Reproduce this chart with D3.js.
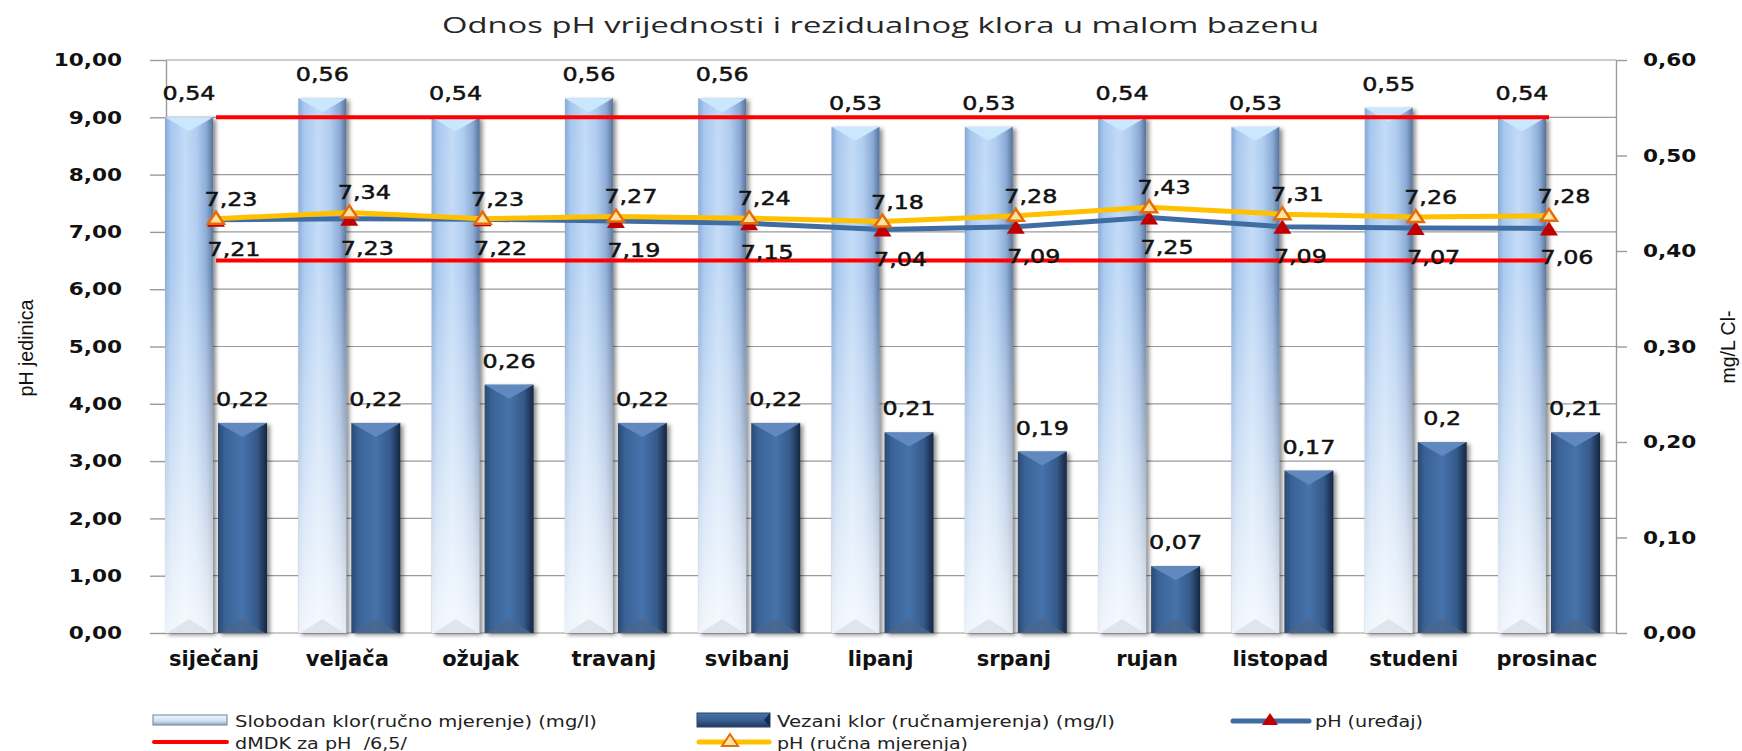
<!DOCTYPE html>
<html><head><meta charset="utf-8">
<script src="https://cdn.jsdelivr.net/npm/d3@7"></script>
<style>body{margin:0;background:#fff}svg{display:block}</style>
</head><body>
<script>
const categories = ["siječanj","veljača","ožujak","travanj","svibanj","lipanj","srpanj","rujan","listopad","studeni","prosinac"];
const slobodanKlor = [0.54,0.56,0.54,0.56,0.56,0.53,0.53,0.54,0.53,0.55,0.54];
const vezaniKlor = [0.22,0.22,0.26,0.22,0.22,0.21,0.19,0.07,0.17,0.2,0.21];
const phUredaj = [7.21,7.23,7.22,7.19,7.15,7.04,7.09,7.25,7.09,7.07,7.06];
const phRucna = [7.23,7.34,7.23,7.27,7.24,7.18,7.28,7.43,7.31,7.26,7.28];
const dmdkDonja = [6.5,6.5,6.5,6.5,6.5,6.5,6.5,6.5,6.5,6.5,6.5];
const dmdkGornja = [9,9,9,9,9,9,9,9,9,9,9];
const leftTicks = [0,1,2,3,4,5,6,7,8,9,10];
const rightTicks = [0,0.1,0.2,0.3,0.4,0.5,0.6];
const title = "Odnos pH vrijednosti i rezidualnog klora u malom bazenu";
const leftTitle = "pH jedinica";
const rightTitle = "mg/L Cl-";
const legendNames = ["Slobodan klor(ručno mjerenje) (mg/l)","Vezani klor (ručnamjerenja) (mg/l)","pH (uređaj)","dMDK za pH  /6,5/","pH (ručna mjerenja)"];

const W=1742,H=751;
const P={left:166,right:1616,top:60,bottom:633};
const svg=d3.select("body").append("svg").attr("width",W).attr("height",H);
const defs=svg.append("defs");
function grad(id,stops,vert){const g=defs.append("linearGradient").attr("id",id).attr("x1",0).attr("y1",0).attr("x2",vert?0:1).attr("y2",vert?1:0);
 stops.forEach(s=>g.append("stop").attr("offset",s[0]).attr("stop-color",s[1]).attr("stop-opacity",s[2]===undefined?1:s[2]));}
grad("gLight",[[0,"#86a8d4"],[0.12,"#a6c7ee"],[0.42,"#c3dbf7"],[0.66,"#afccef"],[0.86,"#8aaad6"],[1,"#56729a"]]);
grad("gLightV",[[0,"#fff",0],[0.3,"#fff",0.05],[1,"#fff",0.85]],true);
grad("gDark",[[0,"#2a4972"],[0.15,"#3a6396"],[0.5,"#4673ab"],[0.8,"#35598a"],[0.92,"#22395c"],[1,"#162842"]]);
grad("gLegL",[[0,"#f2f7fd"],[0.6,"#cfdff1"],[1,"#8ea6c2"]],true);
grad("gLegD",[[0,"#4a72a6"],[0.5,"#3a6094"],[1,"#22395c"]],true);
const f=defs.append("filter").attr("id","sh").attr("x","-30%").attr("y","-10%").attr("width","170%").attr("height","125%");
f.append("feDropShadow").attr("dx",3).attr("dy",2).attr("stdDeviation",2).attr("flood-color","#000").attr("flood-opacity",0.45);

function stretch(sel,k){sel.each(function(){const l=this.getComputedTextLength();this.setAttribute("textLength",l*k);this.setAttribute("lengthAdjust","spacingAndGlyphs");});}
function fitLen(sel,len){sel.attr("textLength",len).attr("lengthAdjust","spacingAndGlyphs");}
const fmt=d=>d3.format(".2f")(d).replace(".",",");
const fmtRaw=d=>String(d).replace(".",",");

const x=d3.scalePoint().domain(categories).range([216,1549]);
const yL=d3.scaleLinear().domain([0,10]).range([P.bottom,P.top]);
const yR=d3.scaleLinear().domain([0,0.6]).range([P.bottom,P.top]);

// title
const t=svg.append("text").attr("x",880.5).attr("y",33).attr("text-anchor","middle")
 .attr("font-family","Open Sans, DejaVu Sans, sans-serif").attr("font-size",22).attr("fill","#262626").text(title);
fitLen(t,877);

// gridlines
svg.append("g").selectAll("line").data(leftTicks).join("line")
 .attr("x1",P.left).attr("x2",P.right).attr("y1",d=>yL(d)).attr("y2",d=>yL(d))
 .attr("stroke","#9a9a9a").attr("stroke-width",1.2);

// axes
const axL=svg.append("g").attr("transform",`translate(${P.left},0)`)
 .call(d3.axisLeft(yL).tickValues(leftTicks).tickSize(16).tickSizeOuter(0).tickPadding(28).tickFormat(fmt));
const axR=svg.append("g").attr("transform",`translate(${P.right},0)`)
 .call(d3.axisRight(yR).tickValues(rightTicks).tickSize(11).tickSizeOuter(0).tickPadding(16).tickFormat(fmt));
[axL,axR].forEach(a=>{a.selectAll("path,line").attr("stroke","#9a9a9a").attr("stroke-width",1.4);
 a.selectAll("text").attr("font-family","DejaVu Sans, Verdana, sans-serif").attr("font-weight","bold").attr("font-size",18).attr("fill","#111");
 stretch(a.selectAll("text"),1.2);});

// axis titles
const lt=svg.append("text").attr("transform","translate(33,348) rotate(-90)").attr("text-anchor","middle")
 .attr("font-family","Liberation Sans Narrow, Liberation Sans, sans-serif").attr("font-size",20).attr("fill","#111").text(leftTitle);
fitLen(lt,97);
const rt=svg.append("text").attr("transform","translate(1735,347) rotate(-90)").attr("text-anchor","middle")
 .attr("font-family","Liberation Sans Narrow, Liberation Sans, sans-serif").attr("font-size",20).attr("fill","#111").text(rightTitle);
fitLen(rt,73);

// bars
const LW=48, DW=49;
function bar(g,x0,w,val,kind){
 const top=yR(val), bot=P.bottom, h=bot-top, xm=x0+w/2, dep=14;
 const grp=g.append("g");
 const sh=grp.append("g").attr("filter","url(#sh)");
 sh.append("rect").attr("x",x0).attr("y",top).attr("width",w).attr("height",h).attr("fill",kind==="L"?"url(#gLight)":"url(#gDark)");
 if(kind==="L") grp.append("rect").attr("x",x0).attr("y",top).attr("width",w).attr("height",h).attr("fill","url(#gLightV)");
 grp.append("path").attr("d",`M${x0},${top}L${x0+w},${top}L${xm},${top+dep}Z`).attr("fill",kind==="L"?"#c9e8fd":"#6189c0");
 grp.append("path").attr("d",`M${x0+2},${bot}L${x0+w-2},${bot}L${xm},${bot-dep}Z`).attr("fill",kind==="L"?"#d8e0ea":"#4a668c").attr("opacity",0.8);
}
const gb=svg.append("g");
categories.forEach((c,i)=>{
 bar(gb,x(c)-51,LW,slobodanKlor[i],"L");
 bar(gb,x(c)+2,DW,vezaniKlor[i],"D");
});

// red limit lines
const line=d3.line().x((d,i)=>x(categories[i])).y(d=>yL(d));
[dmdkGornja,dmdkDonja].forEach(arr=>svg.append("path").attr("d",line(arr)).attr("fill","none").attr("stroke","#ff0000").attr("stroke-width",4));

// pH lines
const tri="M0,-7L8,5L-8,5Z";
svg.append("path").attr("d",line(phUredaj)).attr("fill","none").attr("stroke","#3f6ca3").attr("stroke-width",5).attr("stroke-linejoin","round");
svg.append("g").selectAll("path").data(phUredaj).join("path").attr("d","M0,-8L9,6L-9,6Z")
 .attr("transform",(d,i)=>`translate(${x(categories[i])},${yL(d)+1})`).attr("fill","#c00000");
svg.append("path").attr("d",line(phRucna)).attr("fill","none").attr("stroke","#ffc000").attr("stroke-width",5).attr("stroke-linejoin","round");
svg.append("g").selectAll("path").data(phRucna).join("path").attr("d",tri)
 .attr("transform",(d,i)=>`translate(${x(categories[i])},${yL(d)})`).attr("fill","#fde3a0").attr("stroke","#e46c0a").attr("stroke-width",2.5);

// data labels
const lab=svg.append("g").attr("font-family","DejaVu Sans, Verdana, sans-serif").attr("font-size",20).attr("fill","#111")
 .attr("stroke","#111").attr("stroke-width",0.5).attr("text-anchor","middle");
lab.selectAll(".a").data(slobodanKlor).join("text").attr("x",(d,i)=>x(categories[i])-27).attr("y",d=>yR(d)-17).text(fmtRaw);
lab.selectAll(".b").data(vezaniKlor).join("text").attr("x",(d,i)=>x(categories[i])+26.5).attr("y",d=>yR(d)-17).text(fmtRaw);
lab.selectAll(".c").data(phRucna).join("text").attr("x",(d,i)=>x(categories[i])+15).attr("y",d=>yL(d)-13).text(fmtRaw);
lab.selectAll(".d").data(phUredaj).join("text").attr("x",(d,i)=>x(categories[i])+18).attr("y",d=>yL(d)+36).text(fmtRaw);
stretch(lab.selectAll("text"),1.19);

// category labels
svg.append("g").selectAll("text").data(categories).join("text").attr("x",d=>x(d)-2).attr("y",666).attr("text-anchor","middle")
 .attr("font-family","DejaVu Sans, sans-serif").attr("font-weight","bold").attr("font-size",21).attr("fill","#111").text(d=>d);

// legend
const lg=svg.append("g");
const lf="DejaVu Sans, Verdana, sans-serif";
function ltxt(xx,yy,s,len){const e=lg.append("text").attr("x",xx).attr("y",yy).attr("font-family",lf).attr("font-size",15.5).attr("fill","#222").style("white-space","pre").text(s);fitLen(e,len);}
lg.append("rect").attr("x",153).attr("y",715).attr("width",74).attr("height",10).attr("fill","url(#gLegL)").attr("stroke","#7f93ab").attr("stroke-width",1.2);
ltxt(235,727,legendNames[0],362);
lg.append("rect").attr("x",697).attr("y",713).attr("width",73).attr("height",14).attr("fill","url(#gLegD)").attr("stroke","#2a456b").attr("stroke-width",1);
lg.append("path").attr("d","M770,713L764,720L770,727Z").attr("fill","#1a2d48");
ltxt(777,727,legendNames[1],338);
lg.append("line").attr("x1",1233).attr("x2",1309).attr("y1",721).attr("y2",721).attr("stroke","#3f6ca3").attr("stroke-width",5).attr("stroke-linecap","round");
lg.append("path").attr("d",tri).attr("transform","translate(1270,720)").attr("fill","#c00000");
ltxt(1315,727,legendNames[2],108);
lg.append("line").attr("x1",154).attr("x2",227).attr("y1",742).attr("y2",742).attr("stroke","#ff0000").attr("stroke-width",4).attr("stroke-linecap","round");
ltxt(235,749,legendNames[3],172);
lg.append("line").attr("x1",699).attr("x2",769).attr("y1",742).attr("y2",742).attr("stroke","#ffc000").attr("stroke-width",5).attr("stroke-linecap","round");
lg.append("path").attr("d",tri).attr("transform","translate(730,741)").attr("fill","#fde3a0").attr("stroke","#e46c0a").attr("stroke-width",2);
ltxt(777,749,legendNames[4],191);
</script>
</body></html>
